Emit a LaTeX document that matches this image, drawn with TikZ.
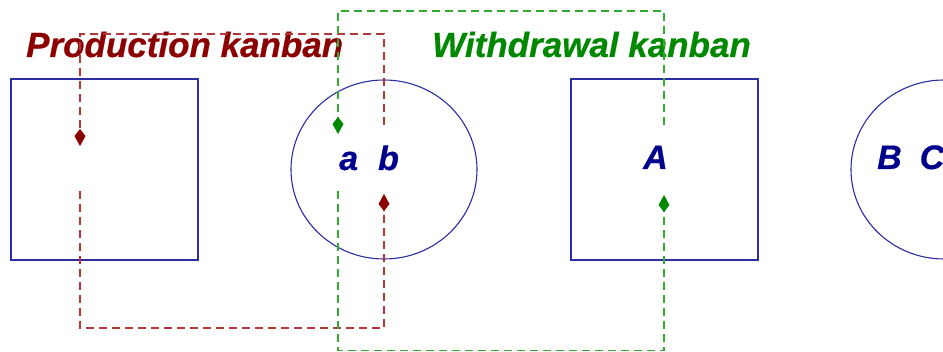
\documentclass[tikz,border=0pt]{standalone}
\usepackage{fontspec}
\setmainfont{Liberation Sans}
\newfontfamily\heavyfont{Liberation Sans Bold Italic}[FakeBold=0.6]
\usetikzlibrary{arrows.meta,shapes.geometric}
\definecolor{titleRed}{RGB}{139,0,0}
\definecolor{titleGreen}{RGB}{0,136,0}
\definecolor{labelBlue}{RGB}{0,0,140}
\definecolor{shapeBlue}{RGB}{45,45,165}
\definecolor{dashRed}{RGB}{180,55,55}
\definecolor{dashGreen}{RGB}{50,170,50}
\tikzset{
  stock/.style={draw=shapeBlue,line width=1.2pt,rectangle,minimum width=187pt,minimum height=181pt,inner sep=0pt,outer sep=0pt},
  store/.style={draw=shapeBlue,line width=1.1pt,ellipse,minimum width=186pt,minimum height=179pt,inner sep=0pt,outer sep=0pt},
  title/.style={font=\fontsize{35}{35}\selectfont\heavyfont,inner sep=0pt,anchor=base west},
  lbl/.style={font=\fontsize{34}{34}\selectfont\heavyfont,text=labelBlue,inner sep=0pt,anchor=base west},
  tipshape/.style={},
  pflow/.style={draw=dashRed,line width=1.3pt,dash pattern=on 8pt off 5pt,-{Kite[length=17pt,width=11pt,inset=7pt,color=titleRed]}},
  wflow/.style={draw=dashGreen,line width=1.3pt,dash pattern=on 8pt off 5pt,-{Kite[length=17pt,width=11pt,inset=7pt,color=titleGreen]}}
}
\begin{document}
\begin{tikzpicture}[x=1pt,y=-1pt]
\useasboundingbox (0,0) rectangle (943,352);
\clip (0,0) rectangle (943,352);
% shapes
\node[stock] (box1) at (104.5,169.5) {};
\node[store] (circ1) at (384,169.5) {};
\node[stock] (boxA) at (664.5,169.5) {};
\node[store] (circ2) at (944,169.5) {};
% labels
\node[lbl] (la) at (339,170) {a\hspace{20pt}b};
\node[lbl] (lA) at (643,169) {A};
\node[lbl] (lB) at (877,169) {B\hspace{18pt}C};
\node[title,text=titleRed] (tp) at (26,57) {Production kanban};
\node[title,text=titleGreen] (tw) at (432,57) {Withdrawal kanban};
% production kanban loop
\coordinate (p1) at (384,125);
\coordinate (p2) at (384,34);
\coordinate (p3) at (80,34);
\coordinate (p4) at (80,146);
\coordinate (p5) at (80,191);
\coordinate (p6) at (80,328);
\coordinate (p7) at (384,328);
\coordinate (p8) at (384,194);
\draw[pflow] (p1) -- (p2) -- (p3) -- (p4);
\draw[pflow] (p5) -- (p6) -- (p7) -- (p8);
% withdrawal kanban loop
\coordinate (w1) at (664,125);
\coordinate (w2) at (664,11);
\coordinate (w3) at (338,11);
\coordinate (w4) at (338,134);
\coordinate (w5) at (338,191);
\coordinate (w6) at (338,350.5);
\coordinate (w7) at (664,350.5);
\coordinate (w8) at (664,195);
\draw[wflow] (w1) -- (w2) -- (w3) -- (w4);
\draw[wflow] (w5) -- (w6) -- (w7) -- (w8);
\end{tikzpicture}
\end{document}
